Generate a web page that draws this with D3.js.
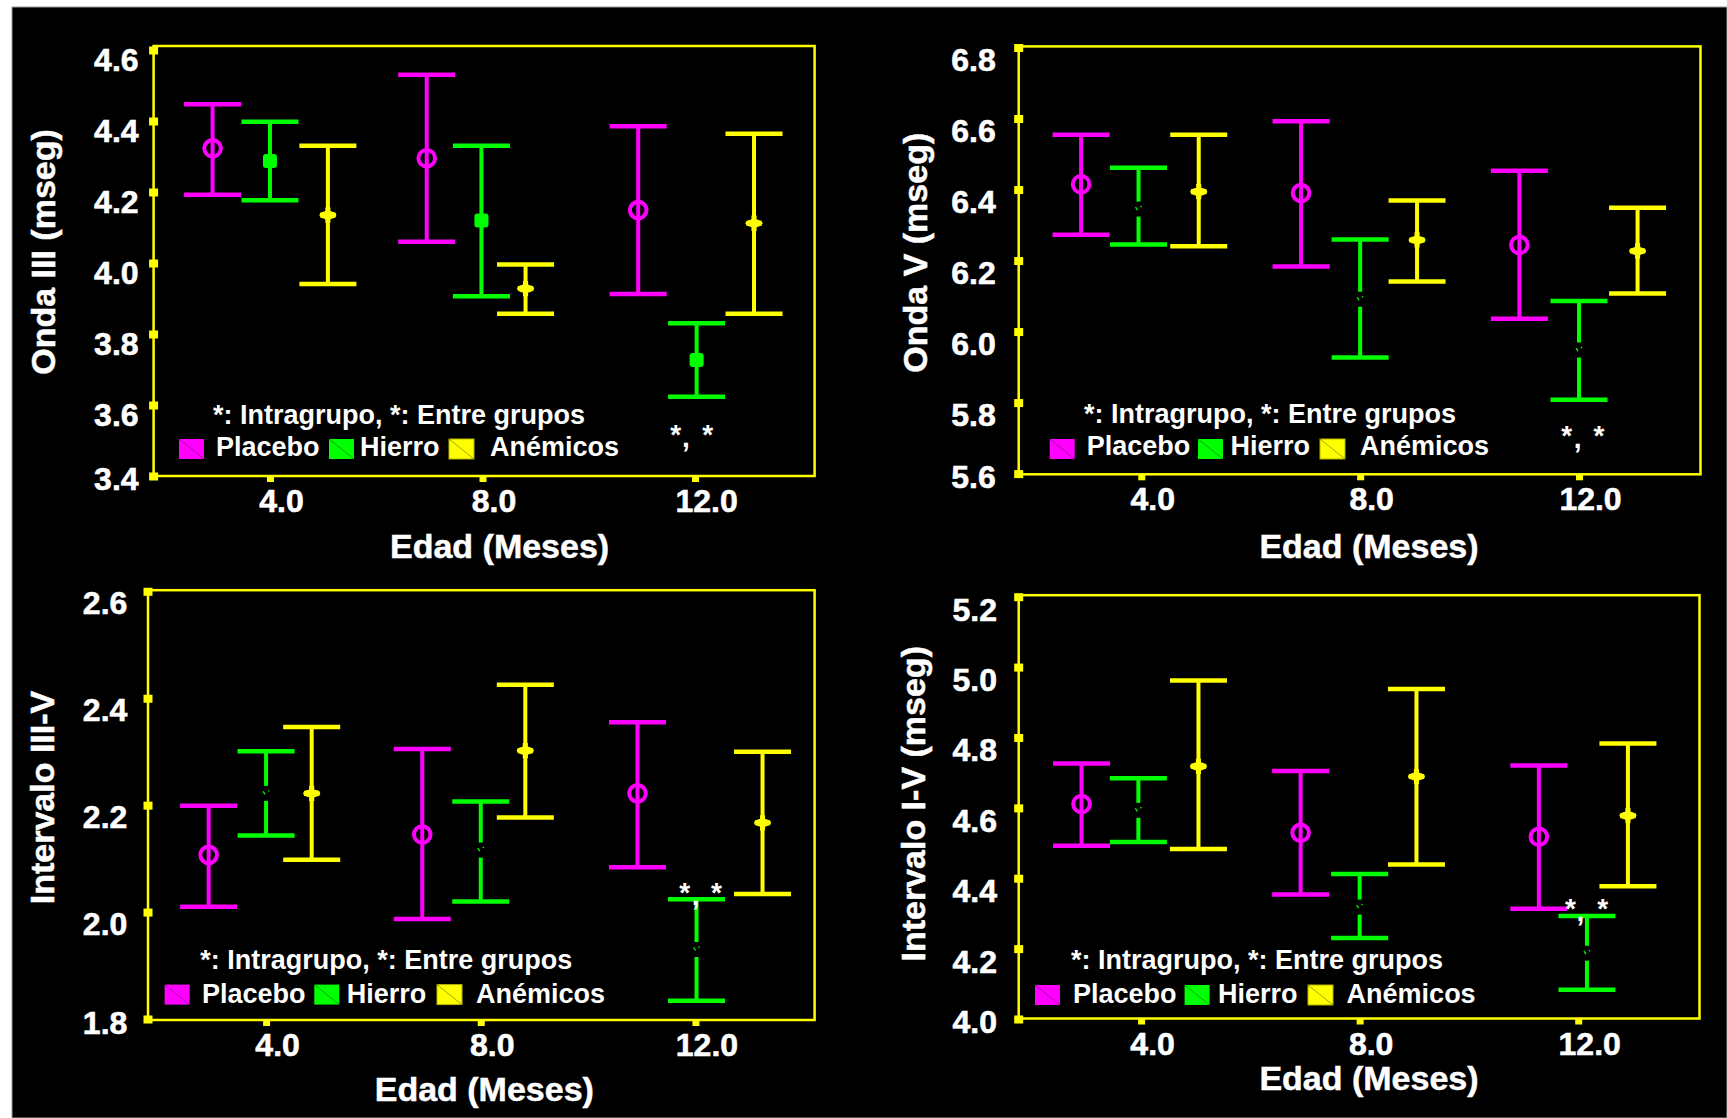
<!DOCTYPE html>
<html>
<head>
<meta charset="utf-8">
<script src="https://cdn.jsdelivr.net/npm/d3@7"></script>
<style>
  html, body { margin: 0; padding: 0; background: #fff; }
  svg { display: block; }
</style>
</head>
<body>
<svg id="chart" width="1727" height="1118"></svg>
<script>
// ---- Shared categories and labels ----
const groups = ["Placebo", "Hierro", "Anémicos"];
const ageTicks = [4, 8, 12];
const ageTickLabels = ["4.0", "8.0", "12.0"];
const noteText = "*: Intragrupo, *: Entre grupos";
const xTitle = "Edad (Meses)";

// ---- Onda III (mseg) : rows are Placebo, Hierro, Anémicos; columns are 4, 8, 12 months ----
const ondaIIIx    = [[2.92, 6.95, 10.93], [4.00, 7.98, 12.03], [5.09, 8.81, 13.11]];
const ondaIIIMean = [[4.323, 4.295, 4.149], [4.287, 4.120, 3.727], [4.135, 3.928, 4.112]];
const ondaIIILow  = [[4.192, 4.060, 3.913], [4.177, 3.906, 3.623], [3.941, 3.857, 3.857]];
const ondaIIIHigh = [[4.447, 4.530, 4.385], [4.398, 4.330, 3.830], [4.330, 3.996, 4.364]];
const ondaIIITicks = [3.4, 3.6, 3.8, 4.0, 4.2, 4.4, 4.6];

// ---- Onda V (mseg) ----
const ondaVx    = [[2.90, 6.92, 10.91], [3.95, 8.00, 12.00], [5.05, 9.04, 13.07]];
const ondaVMean = [[6.415, 6.390, 6.244], [6.345, 6.091, 5.948], [6.394, 6.258, 6.227]];
const ondaVLow  = [[6.273, 6.183, 6.036], [6.245, 5.927, 5.808], [6.240, 6.141, 6.107]];
const ondaVHigh = [[6.554, 6.592, 6.453], [6.461, 6.259, 6.086], [6.554, 6.369, 6.349]];
const ondaVTicks = [5.6, 5.8, 6.0, 6.2, 6.4, 6.6, 6.8];

// ---- Intervalo III-V ----
const ivIIIVx    = [[2.93, 6.91, 10.92], [4.00, 8.00, 12.02], [4.85, 8.83, 13.25]];
const ivIIIVMean = [[2.107, 2.145, 2.222], [2.222, 2.116, 1.930], [2.222, 2.302, 2.167]];
const ivIIIVLow  = [[2.010, 1.987, 2.084], [2.143, 2.020, 1.834], [2.098, 2.177, 2.034]];
const ivIIIVHigh = [[2.199, 2.305, 2.355], [2.301, 2.207, 2.024], [2.346, 2.425, 2.300]];
const ivIIIVTicks = [1.8, 2.0, 2.2, 2.4, 2.6];

// ---- Intervalo I-V (mseg) ----
const ivIVx    = [[2.91, 6.92, 11.28], [3.95, 8.00, 12.16], [5.05, 9.04, 12.91]];
const ivIVMean = [[4.611, 4.529, 4.518], [4.593, 4.318, 4.187], [4.718, 4.689, 4.578]];
const ivIVLow  = [[4.492, 4.354, 4.313], [4.503, 4.230, 4.083], [4.483, 4.439, 4.377]];
const ivIVHigh = [[4.726, 4.705, 4.720], [4.684, 4.412, 4.293], [4.962, 4.938, 4.783]];
const ivIVTicks = [4.0, 4.2, 4.4, 4.6, 4.8, 5.0, 5.2];

// ---- Styling ----
const COLORS = ["#ff00ff", "#00ff00", "#ffff00"];
const FRAME = "#ffff00";
const FONT = "'Liberation Sans', Arial, Helvetica, sans-serif";
const CAP_HALF = 28.5;

// ---- Panel layout ----
const panels = [
  { title: "Onda III (mseg)", xs: ondaIIIx, mean: ondaIIIMean, low: ondaIIILow, high: ondaIIIHigh, ticks: ondaIIITicks,
    left: 153.6, right: 814.6, top: 46, bottom: 476, yTop: 50, yBottom: 476, xDomain: [1.81, 14.25],
    labelGap: 15, labelDy: 9, hierroSolid: true,
    xt: [499.6, 558], yt: [55, 252], note: [213, 424],
    swX: [179, 329, 449], txX: [216, 360, 490], swY: 439, rowY: 456,
    stars: [675.7, 686, 707.7], starBase: 446 },
  { title: "Onda V (mseg)", xs: ondaVx, mean: ondaVMean, low: ondaVLow, high: ondaVHigh, ticks: ondaVTicks,
    left: 1018.7, right: 1700.5, top: 46.4, bottom: 474.3, yTop: 47.5, yBottom: 473.6, xDomain: [1.76, 14.22],
    labelGap: 23, labelDy: 11, hierroSolid: false,
    xt: [1369, 558], yt: [927, 252.7], note: [1084, 423],
    swX: [1049.7, 1198, 1320], txX: [1086.7, 1230.5, 1360], swY: 439, rowY: 455,
    stars: [1566.7, 1577.7, 1599], starBase: 447 },
  { title: "Intervalo III-V", xs: ivIIIVx, mean: ivIIIVMean, low: ivIIIVLow, high: ivIIIVHigh, ticks: ivIIIVTicks,
    left: 148, right: 814.6, top: 590.2, bottom: 1020, yTop: 591.3, yBottom: 1019, xDomain: [1.80, 14.22],
    labelGap: 20.7, labelDy: 11, hierroSolid: false,
    xt: [484.3, 1101], yt: [54, 797.5], note: [200.2, 969],
    swX: [164.6, 314.3, 437], txX: [201.9, 346.7, 476], swY: 984.6, rowY: 1003,
    stars: [684.6, 695.6, 716.4], starBase: 904 },
  { title: "Intervalo I-V (mseg)", xs: ivIVx, mean: ivIVMean, low: ivIVLow, high: ivIVHigh, ticks: ivIVTicks,
    left: 1018.7, right: 1699.5, top: 595.2, bottom: 1018.5, yTop: 596.7, yBottom: 1019, xDomain: [1.76, 14.22],
    labelGap: 21.7, labelDy: 12, hierroSolid: false,
    xt: [1369, 1090], yt: [925, 803.8], note: [1071, 969],
    swX: [1035, 1184.6, 1308], txX: [1073, 1218, 1346.6], swY: 985, rowY: 1003,
    stars: [1570.5, 1580.5, 1602.6], starBase: 920 }
];

const svg = d3.select("#chart");

// black plate
svg.append("rect")
  .attr("x", 12).attr("y", 7).attr("width", 1727 - 12).attr("height", 1118 - 7)
  .attr("fill", "#000").attr("stroke", "#9a9a9a").attr("stroke-width", 1);

panels.forEach(p => {
  const x = d3.scaleLinear().domain(p.xDomain).range([p.left, p.right]);
  const y = d3.scaleLinear()
    .domain([p.ticks[0], p.ticks[p.ticks.length - 1]])
    .range([p.yBottom, p.yTop]);

  const g = svg.append("g");

  // frame
  g.append("rect")
    .attr("x", p.left).attr("y", p.top)
    .attr("width", p.right - p.left).attr("height", p.bottom - p.top)
    .attr("fill", "none").attr("stroke", FRAME).attr("stroke-width", 2.5);

  // y axis
  const ya = g.append("g")
    .attr("transform", `translate(${p.left},0)`)
    .call(d3.axisLeft(y).tickValues(p.ticks).tickFormat(d3.format(".1f")).tickSize(0).tickPadding(p.labelGap));
  ya.select(".domain").remove();
  ya.selectAll(".tick").append("rect")
    .attr("x", -4.5).attr("y", -4).attr("width", 9).attr("height", 8).attr("fill", FRAME);
  ya.selectAll("text")
    .attr("dy", null)
    .attr("y", d => Math.min(y(d) + p.labelDy, p.bottom + 2) - y(d) + 11.5)
    .attr("fill", "#fff").attr("font-family", FONT).attr("font-weight", "bold").attr("font-size", 32)
    .attr("stroke", "#fff").attr("stroke-width", 0.6);

  // x axis
  const xa = g.append("g")
    .attr("transform", `translate(0,${p.bottom})`)
    .call(d3.axisBottom(x).tickValues(ageTicks).tickFormat((d, i) => ageTickLabels[i]).tickSize(0));
  xa.select(".domain").remove();
  xa.selectAll(".tick").append("rect")
    .attr("x", -3.5).attr("y", 0).attr("width", 7).attr("height", 6).attr("fill", FRAME);
  xa.selectAll("text")
    .attr("dy", null).attr("y", 36).attr("x", 11)
    .attr("fill", "#fff").attr("font-family", FONT).attr("font-weight", "bold").attr("font-size", 32)
    .attr("stroke", "#fff").attr("stroke-width", 0.6);

  // axis titles
  g.append("text")
    .attr("transform", `translate(${p.yt[0]},${p.yt[1]}) rotate(-90)`)
    .attr("text-anchor", "middle")
    .attr("fill", "#fff").attr("font-family", FONT).attr("font-weight", "bold").attr("font-size", 34)
    .attr("stroke", "#fff").attr("stroke-width", 0.5)
    .text(p.title);
  g.append("text")
    .attr("x", p.xt[0]).attr("y", p.xt[1])
    .attr("text-anchor", "middle")
    .attr("fill", "#fff").attr("font-family", FONT).attr("font-weight", "bold").attr("font-size", 34)
    .attr("stroke", "#fff").attr("stroke-width", 0.5)
    .text(xTitle);

  // error bars, one series per group
  groups.forEach((name, gi) => {
    const col = COLORS[gi];
    const rows = ageTicks.map((a, i) => ({
      cx: x(p.xs[gi][i]), m: y(p.mean[gi][i]), lo: y(p.low[gi][i]), hi: y(p.high[gi][i])
    }));
    const sg = g.append("g");
    rows.forEach(r => {
      sg.append("line").attr("x1", r.cx).attr("x2", r.cx).attr("y1", r.hi).attr("y2", r.lo)
        .attr("stroke", col).attr("stroke-width", 4);
      [r.hi, r.lo].forEach(cy => {
        sg.append("line").attr("x1", r.cx - CAP_HALF).attr("x2", r.cx + CAP_HALF)
          .attr("y1", cy).attr("y2", cy).attr("stroke", col).attr("stroke-width", 4.5);
      });
      if (gi === 0) {
        sg.append("circle").attr("cx", r.cx).attr("cy", r.m).attr("r", 8.3)
          .attr("fill", "none").attr("stroke", col).attr("stroke-width", 4);
      } else if (gi === 1) {
        if (p.hierroSolid) {
          sg.append("rect").attr("x", r.cx - 7).attr("y", r.m - 7).attr("width", 14).attr("height", 14)
            .attr("rx", 3).attr("fill", col);
        } else {
          sg.append("rect").attr("x", r.cx - 4).attr("y", r.m - 7.5).attr("width", 8).attr("height", 15)
            .attr("fill", "#000");
          sg.append("path").attr("d", `M${r.cx - 3},${r.m - 2} L${r.cx - 1},${r.m + 1} M${r.cx + 2},${r.m - 3} L${r.cx + 3},${r.m - 2}`)
            .attr("stroke", col).attr("stroke-width", 1.3).attr("fill", "none");
        }
      } else {
        sg.append("path")
          .attr("transform", `translate(${r.cx},${r.m})`)
          .attr("d", d3.symbol(d3.symbolCross, 130)())
          .attr("fill", col);
        sg.append("ellipse").attr("cx", r.cx).attr("cy", r.m).attr("rx", 8.5).attr("ry", 4)
          .attr("fill", col);
      }
    });
  });

  // significance marks
  const st = g.append("text")
    .attr("fill", "#fff").attr("font-family", FONT).attr("font-weight", "bold").attr("font-size", 28)
    .attr("text-anchor", "middle");
  st.append("tspan").attr("x", p.stars[0]).attr("y", p.starBase - 2).text("*");
  st.append("tspan").attr("x", p.stars[1]).attr("y", p.starBase + 1).text(",");
  st.append("tspan").attr("x", p.stars[2]).attr("y", p.starBase - 2).text("*");

  // legend
  g.append("text")
    .attr("x", p.note[0]).attr("y", p.note[1])
    .attr("fill", "#fff").attr("font-family", FONT).attr("font-weight", "bold").attr("font-size", 27)
    .text(noteText);
  groups.forEach((name, gi) => {
    const sx = p.swX[gi];
    g.append("rect").attr("x", sx).attr("y", p.swY).attr("width", 25).attr("height", 20)
      .attr("fill", COLORS[gi])
      .attr("stroke", gi === 2 ? "#b5b500" : "none").attr("stroke-width", 1);
    g.append("line").attr("x1", sx).attr("y1", p.swY).attr("x2", sx + 25).attr("y2", p.swY + 20)
      .attr("stroke", "rgba(0,0,0,0.35)").attr("stroke-width", 1);
    g.append("text")
      .attr("x", p.txX[gi]).attr("y", p.rowY)
      .attr("fill", "#fff").attr("font-family", FONT).attr("font-weight", "bold").attr("font-size", 27)
      .text(name);
  });
});
</script>
</body>
</html>
